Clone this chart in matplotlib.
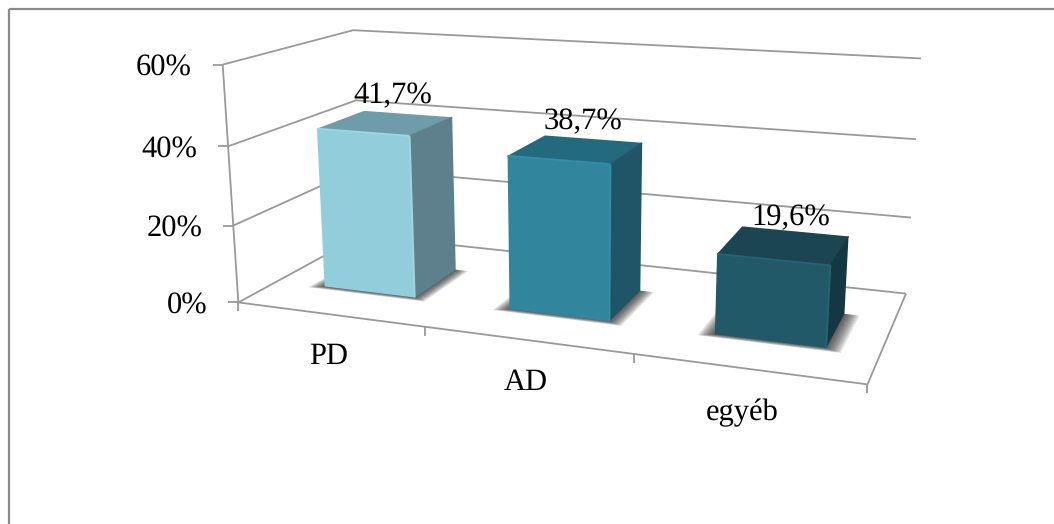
import numpy as np
import matplotlib
matplotlib.use("Agg")
import matplotlib.pyplot as plt
from matplotlib.lines import Line2D
from matplotlib.transforms import Affine2D
from mpl_toolkits.mplot3d.art3d import Poly3DCollection

# Chart data
categories = ["PD", "AD", "egyéb"]
values = [41.7, 38.7, 19.6]
value_labels = ["41,7%", "38,7%", "19,6%"]
y_ticks = [0, 20, 40, 60]
y_tick_labels = ["0%", "20%", "40%", "60%"]

# Face colours for each bar: front, top, right side, bevel highlight
front_colors = ["#92CDDC", "#31859C", "#215968"]
top_colors = ["#6F9CAB", "#246A7E", "#1B4651"]
side_colors = ["#5E808D", "#1F5567", "#143843"]
bevel_colors = ["#A0D5E3", "#368EA6", "#266475"]

# Perspective camera: floor spans x 0-3 and depth 0-1, the walls rise along z in percent
CAMERA = np.array([
    [165.12961615, 183.47595435, -0.42572374, 238.35424589],
    [7.56070692, -27.87940066, -4.01110855, 302.43660731],
    [-0.05139524, 0.16660307, -0.00073961, 1.0],
])
BAR_OFFSET = 0.268
BAR_WIDTH = 0.5
BAR_DEPTH_START = 0.29
BAR_DEPTH = 0.385
X_MAX = 3
GRID_COLOR = "#999999"
FRAME_COLOR = "#8A8A8A"
CATEGORY_LABEL_SHIFT = [(-1, 50), (-1, 50), (-5, 52)]

WIDTH, HEIGHT = 1054, 524
plt.rcParams["font.family"] = ["Liberation Serif", "DejaVu Serif"]
plt.rcParams["text.hinting"] = "none"
TEXT_SIZE = 22

fig = plt.figure(figsize=(WIDTH / 100, HEIGHT / 100), dpi=100, facecolor="white")
pixels = Affine2D().scale(1, -1).translate(0, HEIGHT)

# A square axes as wide as the figure keeps the 3D aspect handling from shrinking it
ax = fig.add_axes([0, (HEIGHT - WIDTH) / 2 / HEIGHT, 1, WIDTH / HEIGHT], projection="3d")
ax.set_axis_off()
ax.patch.set_alpha(0)
ax.computed_zorder = False
ax.set_proj_type("ortho")


def camera_matrix():
    to_axes_data = (pixels + ax.transData.inverted()).get_affine().get_matrix()
    xyw = to_axes_data @ CAMERA
    return np.vstack([xyw[0], xyw[1], [0, 1, 0, 0], xyw[2]])


ax.get_proj = camera_matrix


def project(x, y, z):
    h = CAMERA @ np.array([x, y, z, 1.0])
    return h[0] / h[2], h[1] / h[2]


def line3d(xs, ys, zs, color=GRID_COLOR, lw=1.3, zorder=1):
    ax.plot(xs, ys, zs, color=color, lw=lw, zorder=zorder, solid_capstyle="butt")


def pixel_line(xs, ys, color=GRID_COLOR, lw=1.3):
    fig.add_artist(Line2D(xs, ys, transform=pixels, color=color, lw=lw, solid_capstyle="butt"))


# Gridlines across the left and back walls
for tick in y_ticks:
    line3d([0, 0, X_MAX], [0, 1, 1], [tick, tick, tick])

# Floor edges and the value axis
line3d([0, X_MAX, X_MAX], [0, 0, 1], [0, 0, 0])
line3d([0, 0], [0, 0], [y_ticks[0], y_ticks[-1]])

# Tick marks stay axis-aligned on screen
for tick, label in zip(y_ticks, y_tick_labels):
    px, py = project(0, 0, tick)
    pixel_line([px - 10, px], [py, py])
    fig.text(px - 31, py + 11, label, transform=pixels, ha="right", va="baseline", fontsize=TEXT_SIZE)

for i in range(X_MAX + 1):
    px, py = project(i, 0, 0)
    pixel_line([px, px], [py, py + 9])

for i, label in enumerate(categories):
    px, py = project(i + 0.5, 0, 0)
    sx, sy = CATEGORY_LABEL_SHIFT[i]
    fig.text(px + sx, py + sy, label, transform=pixels, ha="center", va="baseline", fontsize=TEXT_SIZE)

# Bars with a soft contact shadow on the floor
clear = (0, 0, 0, 0)
for i, value in enumerate(values):
    x0 = i + BAR_OFFSET
    x1 = x0 + BAR_WIDTH
    y0 = BAR_DEPTH_START
    y1 = y0 + BAR_DEPTH

    for grow in np.linspace(0.07, 0.004, 10):
        gx, gy = grow, grow * 0.45
        shadow = [(x0 - gx, y0 - gy, 0), (x1 + gx, y0 - gy, 0), (x1 + gx, y1, 0), (x0 - gx, y1, 0)]
        ax.add_collection3d(Poly3DCollection([shadow], facecolors=(0.1, 0.1, 0.1, 0.11),
                                             edgecolors="none", zorder=2))

    # bar3d face order: bottom, top, front, back, left, right
    ax.bar3d(x0, y0, 0, BAR_WIDTH, BAR_DEPTH, value,
             color=[clear, top_colors[i], front_colors[i], clear, clear, side_colors[i]],
             shade=False, edgecolor="none", zorder=3)

    # Bevel highlights along the front edges
    line3d([x0, x1, x1], [y0, y0, y0], [value, value, 0], color=bevel_colors[i], lw=1.3, zorder=4)
    line3d([x1, x1], [y0, y1], [value, value], color=side_colors[i], lw=0.9, zorder=4)

    # Value label above the bar top
    px, py = project(x0 + BAR_WIDTH / 2, y0 + BAR_DEPTH / 2, value)
    fig.text(px + 6.5, py - 20, value_labels[i], transform=pixels, ha="center", va="baseline",
             fontsize=TEXT_SIZE)

# Outer frame: only its top and left sides fall inside the canvas
pixel_line([8.5, WIDTH], [9, 9], color=FRAME_COLOR, lw=1.6)
pixel_line([8.5, 8.5], [9, HEIGHT], color=FRAME_COLOR, lw=1.6)

fig.savefig("out.png", dpi=100, facecolor="white")
